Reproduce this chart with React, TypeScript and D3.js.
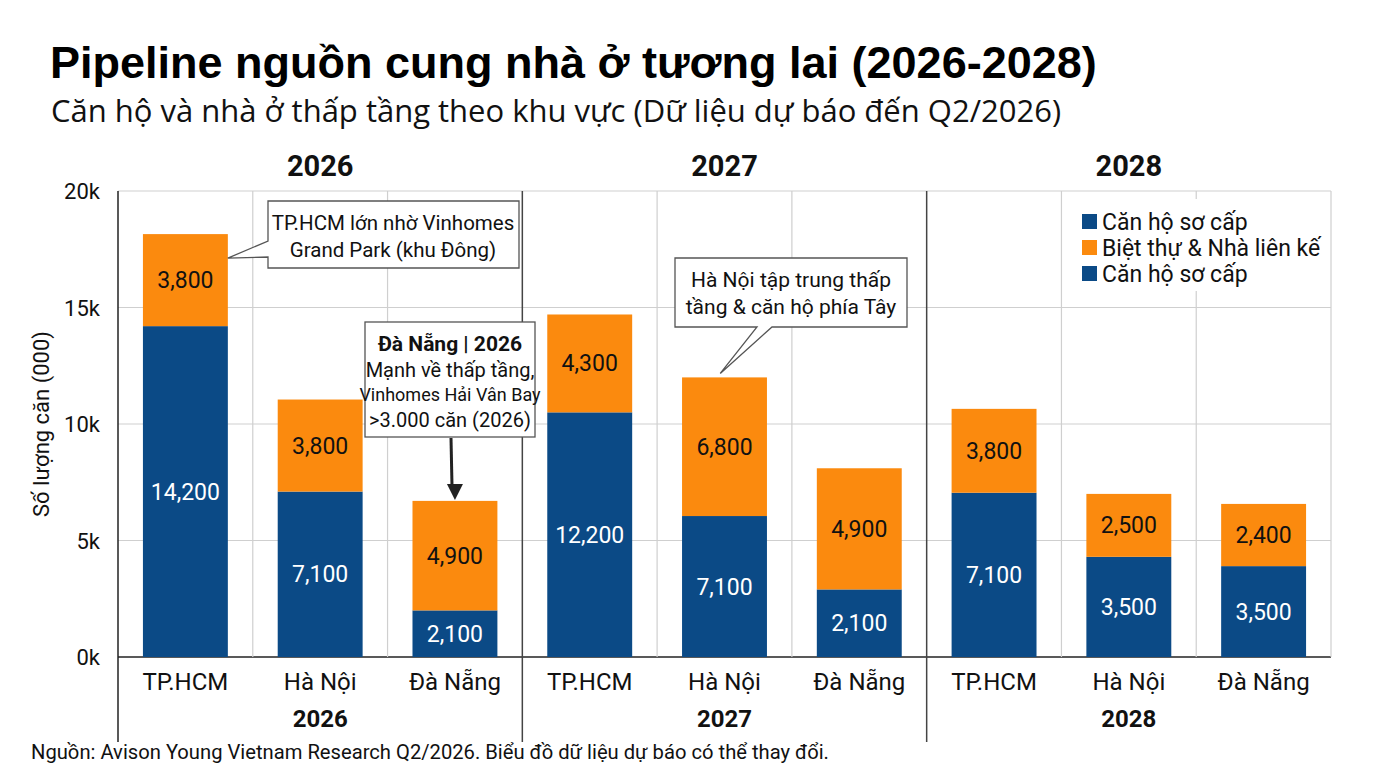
import React from "react";
import * as d3 from "d3";

const years = ["2026", "2027", "2028"];
const cities = ["TP.HCM", "Hà Nội", "Đà Nẵng"];
// bar heights (thousand units), row = year, col = city
const apartmentValues = [
  [14.2, 7.1, 2.0],
  [10.5, 6.05, 2.9],
  [7.05, 4.3, 3.9],
];
const villaValues = [
  [3.95, 3.95, 4.7],
  [4.2, 5.95, 5.2],
  [3.6, 2.7, 2.67],
];
// printed labels
const apartmentLabels = [
  ["14,200", "7,100", "2,100"],
  ["12,200", "7,100", "2,100"],
  ["7,100", "3,500", "3,500"],
];
const villaLabels = [
  ["3,800", "3,800", "4,900"],
  ["4,300", "6,800", "4,900"],
  ["3,800", "2,500", "2,400"],
];
const yTicks = [0, 5, 10, 15, 20];
const legendItems = [
  { label: "Căn hộ sơ cấp", key: "apt" },
  { label: "Biệt thự & Nhà liên kế", key: "villa" },
  { label: "Căn hộ sơ cấp", key: "apt" },
];

const BLUE = "#0b4a86";
const ORANGE = "#fb8a0e";
const F = "Roboto, 'Noto Sans', sans-serif";

export default function App() {
  const W = 1376, H = 768;
  const left = 118, right = 1331, top = 191, bottom = 657;
  const yearX = d3.scaleBand<string>().domain(years).range([left, right]).padding(0);
  const cityX = d3
    .scaleBand<string>()
    .domain(cities)
    .range([0, yearX.bandwidth()])
    .paddingInner(0.37)
    .paddingOuter(0.185);
  const y = d3.scaleLinear().domain([0, 20]).range([bottom, top]);

  const cellLines: number[] = [];
  years.forEach((yr) => {
    cities.forEach((c, j) => {
      if (j > 0) cellLines.push((yearX(yr) as number) + j * (yearX.bandwidth() / 3));
    });
  });

  const barX = (yi: number, ci: number) => (yearX(years[yi]) as number) + (cityX(cities[ci]) as number);
  const bw = cityX.bandwidth();

  return (
    <svg width={W} height={H} style={{ position: "absolute", left: 0, top: 0, background: "#fff" }}>
      <rect width={W} height={H} fill="#fff" />
      <text x={50} y={78} fontFamily="'Liberation Sans', Arial, sans-serif" fontWeight="bold" fontSize={45} fill="#000">
        Pipeline nguồn cung nhà ở tương lai (2026-2028)
      </text>
      <text x={51} y={122} fontFamily="'Open Sans', 'Noto Sans', sans-serif" fontSize={31} fill="#111">
        Căn hộ và nhà ở thấp tầng theo khu vực (Dữ liệu dự báo đến Q2/2026)
      </text>

      {/* horizontal grid */}
      {yTicks.map((t) => (
        <line key={"h" + t} x1={left} x2={right} y1={y(t)} y2={y(t)} stroke={t === 0 ? "#222" : "#cfcfcf"} strokeWidth={t === 0 ? 1.5 : 1.2} />
      ))}
      {/* vertical cell grid */}
      {cellLines.map((x, i) => (
        <line key={"v" + i} x1={x} x2={x} y1={top} y2={bottom} stroke="#cfcfcf" strokeWidth={1.2} />
      ))}
      <line x1={right} x2={right} y1={top} y2={bottom} stroke="#cfcfcf" strokeWidth={1.2} />
      {/* year separators & left axis */}
      {years.map((yr, i) => {
        const x = yearX(yr) as number;
        return <line key={"s" + yr} x1={x} x2={x} y1={top} y2={742} stroke={i === 0 ? "#222" : "#444"} strokeWidth={1.5} />;
      })}

      {/* y ticks */}
      {yTicks.map((t) => (
        <text key={"yt" + t} x={100} y={y(t) + 8} textAnchor="end" fontFamily={F} fontSize={22} fill="#111">
          {t}k
        </text>
      ))}
      <text transform={`translate(49,${(top + bottom) / 2}) rotate(-90)`} textAnchor="middle" fontFamily={F} fontSize={22} fill="#111">
        Số lượng căn (000)
      </text>

      {/* top year labels */}
      {years.map((yr) => (
        <text key={"ty" + yr} x={(yearX(yr) as number) + yearX.bandwidth() / 2} y={176} textAnchor="middle" fontFamily={F} fontWeight="bold" fontSize={29} fill="#111">
          {yr}
        </text>
      ))}

      {/* bars */}
      {years.map((yr, yi) =>
        cities.map((c, ci) => {
          const a = apartmentValues[yi][ci];
          const v = villaValues[yi][ci];
          const x = barX(yi, ci);
          return (
            <g key={yr + c}>
              <rect x={x} y={y(a)} width={bw} height={y(0) - y(a)} fill={BLUE} />
              <rect x={x} y={y(a + v)} width={bw} height={y(a) - y(a + v)} fill={ORANGE} />
              <text x={x + bw / 2} y={(y(0) + y(a)) / 2 + 8} textAnchor="middle" fontFamily={F} fontSize={23} fill="#fff">
                {apartmentLabels[yi][ci]}
              </text>
              <text x={x + bw / 2} y={(y(a) + y(a + v)) / 2 + 8} textAnchor="middle" fontFamily={F} fontSize={23} fill="#111">
                {villaLabels[yi][ci]}
              </text>
            </g>
          );
        })
      )}

      {/* category labels */}
      {years.map((yr, yi) =>
        cities.map((c, ci) => (
          <text key={"cl" + yr + c} x={barX(yi, ci) + bw / 2} y={690} textAnchor="middle" fontFamily={F} fontSize={24} fill="#111">
            {c}
          </text>
        ))
      )}
      {years.map((yr) => (
        <text key={"by" + yr} x={(yearX(yr) as number) + yearX.bandwidth() / 2} y={727} textAnchor="middle" fontFamily={F} fontWeight="bold" fontSize={24} fill="#111">
          {yr}
        </text>
      ))}

      {/* legend */}
      <rect x={1066} y={199} width={262} height={92} fill="#fff" />
      {legendItems.map((it, i) => (
        <g key={"lg" + i}>
          <rect x={1082} y={214 + i * 26} width={15} height={15} fill={it.key === "apt" ? BLUE : ORANGE} />
          <text x={1102} y={230 + i * 26} fontFamily={F} fontSize={23} fill="#111">
            {it.label}
          </text>
        </g>
      ))}

      {/* annotation 1 */}
      {(() => {
        const tx = barX(0, 0) + bw;
        const ty = y(apartmentValues[0][0] + villaValues[0][0]) + 24;
        return (
          <g>
            <path d={`M268,201 H519 V268 H268 V257 L${tx},${ty} L268,241 Z`} fill="#fff" stroke="#555" strokeWidth={1.3} />
            <text x={393} y={230} textAnchor="middle" fontFamily={F} fontSize={20.5} fill="#111">TP.HCM lớn nhờ Vinhomes</text>
            <text x={393} y={257} textAnchor="middle" fontFamily={F} fontSize={20.5} fill="#111">Grand Park (khu Đông)</text>
          </g>
        );
      })()}

      {/* annotation 2 */}
      {(() => {
        const ax = barX(0, 2) + bw / 2;
        const ay = y(apartmentValues[0][2] + villaValues[0][2]) - 1;
        return (
          <g>
            <rect x={365} y={322} width={170} height={115} fill="#fff" stroke="#555" strokeWidth={1.3} />
            <text x={450} y={351} textAnchor="middle" fontFamily={F} fontWeight="bold" fontSize={21} fill="#111">Đà Nẵng | 2026</text>
            <text x={450} y={377} textAnchor="middle" fontFamily={F} fontSize={20} fill="#111">Mạnh về thấp tầng,</text>
            <text x={450} y={401} textAnchor="middle" fontFamily={F} fontSize={18} fill="#111">Vinhomes Hải Vân Bay</text>
            <text x={450} y={427} textAnchor="middle" fontFamily={F} fontSize={20} fill="#111">&gt;3.000 căn (2026)</text>
            <line x1={451} y1={438} x2={452} y2={ay - 14} stroke="#222" strokeWidth={3} />
            <path d={`M${ax - 8},${ay - 16} L${ax + 8},${ay - 16} L${ax},${ay} Z`} fill="#222" />
          </g>
        );
      })()}

      {/* annotation 3 */}
      {(() => {
        const tx = barX(1, 1) + bw * 0.45;
        const ty = y(apartmentValues[1][1] + villaValues[1][1]) - 4;
        return (
          <g>
            <path d={`M675,258 H907 V327 H772 L${tx},${ty} L757,327 H675 Z`} fill="#fff" stroke="#555" strokeWidth={1.3} />
            <text x={791} y={287} textAnchor="middle" fontFamily={F} fontSize={21} fill="#111">Hà Nội tập trung thấp</text>
            <text x={791} y={314} textAnchor="middle" fontFamily={F} fontSize={21} fill="#111">tầng &amp; căn hộ phía Tây</text>
          </g>
        );
      })()}

      <text x={31} y={759} fontFamily={F} fontSize={20.2} fill="#111">
        Nguồn: Avison Young Vietnam Research Q2/2026. Biểu đồ dữ liệu dự báo có thể thay đổi.
      </text>
    </svg>
  );
}
